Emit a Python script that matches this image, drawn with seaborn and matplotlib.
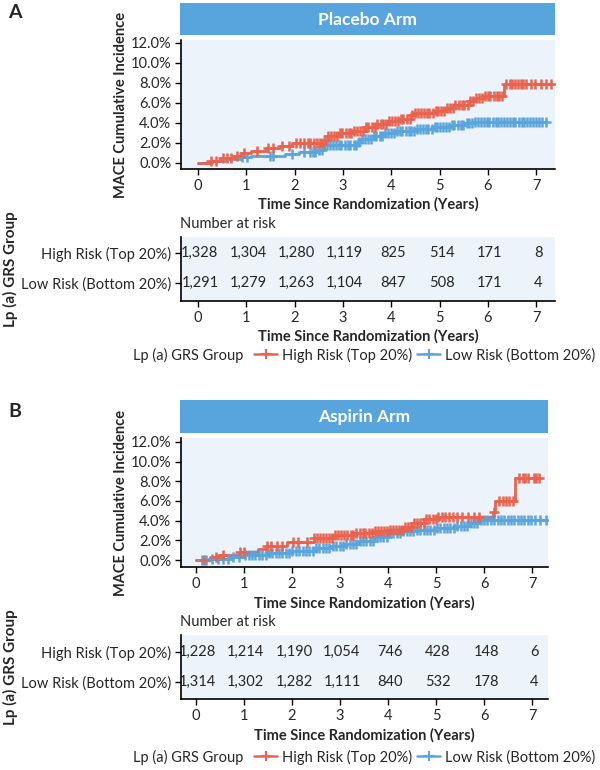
import numpy as np
import pandas as pd
import matplotlib.pyplot as plt
from matplotlib.lines import Line2D
from matplotlib.ticker import FuncFormatter
import seaborn as sns

sns.set_style("ticks")
plt.rcParams["font.family"] = ["Lato", "DejaVu Sans"]

W, H = 600, 770

red = "#E9634E"
blue = "#5AA5DC"
strip_color = "#58A4DC"
panel_bg = "#ECF3FB"

years = [0, 1, 2, 3, 4, 5, 6, 7]
groups = ["High Risk (Top 20%)", "Low Risk (Bottom 20%)"]

# Placebo arm - cumulative incidence steps (years, %)
placebo_high_t = [0, 0.25, 0.45, 0.7, 0.9, 1.1, 1.4, 1.7, 1.95, 2.6, 2.7, 2.9, 3.2, 3.45,
                  3.7, 3.95, 4.2, 4.4, 4.5, 4.9, 5.15, 5.3, 5.6, 5.75, 5.9, 6.33, 7.31]
placebo_high_v = [0, 0.25, 0.5, 0.75, 1.0, 1.2, 1.5, 1.75, 2.0, 2.3, 2.7, 3.0, 3.2, 3.6,
                  3.9, 4.2, 4.4, 4.8, 5.0, 5.2, 5.5, 5.8, 6.2, 6.5, 6.7, 7.9, 7.9]
placebo_high_cens = [0.28, 0.37, 0.52, 0.61, 0.69, 0.8, 0.96, 1.22, 1.46, 1.55, 1.74, 1.88,
                     2.02, 2.11, 2.19, 2.27, 2.32, 2.41, 2.46, 2.52, 2.58, 2.63, 2.7, 2.76,
                     2.81, 2.88, 2.94, 2.99, 3.06, 3.12, 3.17, 3.24, 3.3, 3.35, 3.42, 3.48,
                     3.53, 3.6, 3.66, 3.71, 3.78, 3.84, 3.89, 3.96, 4.02, 4.07, 4.14, 4.2,
                     4.25, 4.32, 4.38, 4.43, 4.5, 4.56, 4.61, 4.68, 4.74, 4.79, 4.86, 4.92,
                     4.97, 5.04, 5.1, 5.15, 5.22, 5.28, 5.33, 5.4, 5.46, 5.51, 5.58, 5.64,
                     5.69, 5.76, 5.82, 5.87, 5.94, 6.0, 6.05, 6.12, 6.18, 6.23, 6.3, 6.38,
                     6.45, 6.5, 6.56, 6.62, 6.68, 6.73, 6.8, 6.9, 6.98, 7.1, 7.21, 7.31]
placebo_low_t = [0, 0.3, 0.6, 0.9, 1.1, 1.8, 2.1, 2.45, 2.6, 3.3, 3.4, 3.6, 3.85, 4.1,
                 4.5, 4.9, 5.25, 5.5, 5.7, 7.2]
placebo_low_v = [0, 0.2, 0.4, 0.6, 0.7, 0.9, 1.1, 1.35, 1.8, 2.1, 2.45, 2.75, 3.0, 3.2,
                 3.4, 3.6, 3.8, 4.0, 4.15, 4.15]
placebo_low_cens = [0.92, 1.02, 1.5, 1.56, 1.95, 2.2, 2.31, 2.38, 2.43, 2.5, 2.56, 2.61,
                    2.68, 2.74, 2.79, 2.86, 2.92, 2.97, 3.04, 3.1, 3.15, 3.22, 3.28, 3.33,
                    3.4, 3.46, 3.51, 3.58, 3.64, 3.69, 3.76, 3.82, 3.87, 3.94, 4.0, 4.05,
                    4.12, 4.18, 4.23, 4.3, 4.36, 4.41, 4.48, 4.54, 4.59, 4.66, 4.72, 4.77,
                    4.84, 4.9, 4.95, 5.02, 5.08, 5.13, 5.2, 5.26, 5.31, 5.38, 5.44, 5.49,
                    5.56, 5.62, 5.67, 5.74, 5.8, 5.85, 5.92, 5.98, 6.03, 6.1, 6.16, 6.21,
                    6.28, 6.34, 6.4, 6.46, 6.52, 6.57, 6.64, 6.7, 6.75, 6.82, 6.88, 6.93,
                    7.0, 7.06, 7.13, 7.2]
placebo_risk_high = [1328, 1304, 1280, 1119, 825, 514, 171, 8]
placebo_risk_low = [1291, 1279, 1263, 1104, 847, 508, 171, 4]

# Aspirin arm
aspirin_high_t = [0, 0.3, 0.5, 0.9, 1.3, 1.45, 1.9, 2.45, 2.9, 3.3, 3.7, 4.0, 4.3, 4.5,
                  4.75, 5.05, 6.18, 6.22, 6.65, 7.15]
aspirin_high_v = [0, 0.3, 0.55, 0.8, 1.1, 1.45, 1.8, 2.2, 2.5, 2.7, 2.9, 3.1, 3.4, 3.8,
                  4.2, 4.35, 4.9, 6.0, 8.3, 8.3]
aspirin_high_cens = [0.16, 0.41, 0.56, 0.92, 1.01, 1.48, 1.56, 1.69, 1.8, 2.02, 2.12,
                     2.31, 2.45, 2.52, 2.58, 2.65, 2.71, 2.77, 2.84, 2.9, 2.96, 3.03,
                     3.09, 3.15, 3.22, 3.28, 3.34, 3.41, 3.47, 3.53, 3.6, 3.66, 3.72,
                     3.79, 3.85, 3.91, 3.98, 4.04, 4.1, 4.17, 4.23, 4.29, 4.36, 4.42,
                     4.48, 4.55, 4.61, 4.67, 4.74, 4.8, 4.86, 4.93, 4.99, 5.05, 5.12,
                     5.18, 5.26, 5.35, 5.44, 5.55, 5.66, 5.78, 5.9, 6.2, 6.31, 6.4, 6.46,
                     6.52, 6.6, 6.72, 6.8, 6.86, 6.92, 7.03, 7.09, 7.15]
aspirin_low_t = [0, 0.3, 0.7, 1.0, 1.5, 2.0, 2.5, 2.8, 3.1, 3.4, 3.7, 4.0, 4.3, 4.6, 5.0,
                 5.4, 5.7, 5.9, 7.29]
aspirin_low_v = [0, 0.15, 0.35, 0.55, 0.7, 0.9, 1.2, 1.4, 1.6, 1.95, 2.3, 2.7, 2.95, 3.1,
                 3.3, 3.5, 3.8, 4.1, 4.1]
aspirin_low_cens = [0.12, 0.22, 0.33, 0.45, 0.56, 0.67, 0.78, 0.9, 1.02, 1.1, 1.17, 1.24,
                    1.31, 1.38, 1.45, 1.52, 1.59, 1.66, 1.73, 1.8, 1.87, 1.94, 2.01, 2.08,
                    2.15, 2.22, 2.29, 2.36, 2.43, 2.5, 2.57, 2.64, 2.71, 2.78, 2.85, 2.92,
                    2.99, 3.06, 3.13, 3.2, 3.27, 3.34, 3.41, 3.48, 3.55, 3.62, 3.69, 3.76,
                    3.83, 3.9, 3.97, 4.04, 4.11, 4.18, 4.25, 4.32, 4.39, 4.46, 4.53, 4.6,
                    4.67, 4.74, 4.81, 4.88, 4.95, 5.02, 5.09, 5.16, 5.23, 5.3, 5.37, 5.44,
                    5.51, 5.58, 5.65, 5.72, 5.79, 5.86, 5.93, 6.0, 6.07, 6.14, 6.21, 6.28,
                    6.35, 6.42, 6.49, 6.56, 6.63, 6.7, 6.77, 6.84, 6.91, 6.98, 7.06, 7.16,
                    7.29]
aspirin_risk_high = [1228, 1214, 1190, 1054, 746, 428, 148, 6]
aspirin_risk_low = [1314, 1302, 1282, 1111, 840, 532, 178, 4]


def box(x0, y0, x1, y1):
    return [x0 / W, 1 - y1 / H, (x1 - x0) / W, (y1 - y0) / H]


def draw_curve(ax, t, v, cens, color):
    df = pd.DataFrame({"t": t, "v": np.array(v) / 100})
    sns.lineplot(data=df, x="t", y="v", ax=ax, color=color, estimator=None,
                 drawstyle="steps-post", linewidth=2.0)
    idx = np.searchsorted(t, cens, side="right") - 1
    cy = np.array(v)[np.clip(idx, 0, len(v) - 1)] / 100
    sns.scatterplot(x=cens, y=cy, ax=ax, color=color, marker="+", s=42,
                    linewidth=1.8, zorder=3)


def style_axes(ax):
    ax.set_facecolor(panel_bg)
    for s in ["top", "right"]:
        ax.spines[s].set_visible(False)
    for s in ["left", "bottom"]:
        ax.spines[s].set_color("black")
        ax.spines[s].set_linewidth(1.2)
    ax.tick_params(direction="out", length=4, width=1, color="black",
                   labelsize=10.5, pad=3)


fig = plt.figure(figsize=(6, 7.7), dpi=100)

panels = [
    dict(letter="A", title="Placebo Arm", ly=12,
         strip=(180, 3, 555, 35), main=(181, 40, 555, 169), table=(181, 237, 555, 301),
         xlim=(-0.35, 7.39), ylim=(-0.006, 0.123), tylim=(1.6, -0.53),
         high=(placebo_high_t, placebo_high_v, placebo_high_cens),
         low=(placebo_low_t, placebo_low_v, placebo_low_cens),
         risk=(placebo_risk_high, placebo_risk_low),
         xlab=204, nar=224, txlab=336, leg=355),
    dict(letter="B", title="Aspirin Arm", ly=412,
         strip=(180, 400, 548, 433), main=(181, 438, 548, 567), table=(181, 635, 548, 699),
         xlim=(-0.31, 7.33), ylim=(-0.0071, 0.124), tylim=(1.57, -0.57),
         high=(aspirin_high_t, aspirin_high_v, aspirin_high_cens),
         low=(aspirin_low_t, aspirin_low_v, aspirin_low_cens),
         risk=(aspirin_risk_high, aspirin_risk_low),
         xlab=603, nar=622, txlab=735, leg=757),
]

for p in panels:
    fig.text(8 / W, 1 - p["ly"] / H, p["letter"], fontsize=14, fontweight="bold",
             ha="left", va="center")

    # header strip
    ax_s = fig.add_axes(box(*p["strip"]))
    ax_s.set_facecolor(strip_color)
    ax_s.set_xticks([])
    ax_s.set_yticks([])
    for s in ax_s.spines.values():
        s.set_visible(False)
    ax_s.text(0.5, 0.47, p["title"], color="white", fontsize=12.5, fontweight="bold",
              ha="center", va="center", transform=ax_s.transAxes)

    # cumulative incidence
    ax = fig.add_axes(box(*p["main"]))
    style_axes(ax)
    draw_curve(ax, *p["low"], blue)
    draw_curve(ax, *p["high"], red)
    ax.set_xlim(*p["xlim"])
    ax.set_ylim(*p["ylim"])
    ax.set_xticks(years)
    ax.set_yticks([0, 0.02, 0.04, 0.06, 0.08, 0.10, 0.12])
    ax.yaxis.set_major_formatter(FuncFormatter(lambda y, _: f"{y * 100:.1f}%"))
    mh = p["main"][3] - p["main"][1]
    ax.set_xlabel("Time Since Randomization (Years)", fontsize=10.5, fontweight="bold",
                  va="center")
    ax.xaxis.set_label_coords(0.5, -(p["xlab"] - p["main"][3]) / mh)
    ax.set_ylabel("MACE Cumulative Incidence", fontsize=10.5, fontweight="bold",
                  va="center")
    ax.yaxis.set_label_coords((121 - 181) / (p["main"][2] - 181), 0.5)

    # number at risk table
    ax_t = fig.add_axes(box(*p["table"]))
    style_axes(ax_t)
    ax_t.set_xlim(*p["xlim"])
    ax_t.set_ylim(*p["tylim"])
    ax_t.set_xticks(years)
    ax_t.set_yticks([0, 1])
    ax_t.set_yticklabels(groups)
    for row, counts in enumerate(p["risk"]):
        for yr, n in zip(years, counts):
            ax_t.text(yr + 0.04, row, f"{n:,}", ha="center", va="center", fontsize=10.5)
    th = p["table"][3] - p["table"][1]
    ax_t.set_xlabel("Time Since Randomization (Years)", fontsize=10.5, fontweight="bold",
                    va="center")
    ax_t.xaxis.set_label_coords(0.5, -(p["txlab"] - p["table"][3]) / th)
    fig.text(180 / W, 1 - p["nar"] / H, "Number at risk", fontsize=10.5,
             ha="left", va="center")
    fig.text(10 / W, 1 - (p["table"][1] + p["table"][3]) / 2 / H, "Lp (a) GRS Group",
             fontsize=11, fontweight="bold", rotation=90, ha="center", va="center")

    # legend
    fig.text(133 / W, 1 - p["leg"] / H, "Lp (a) GRS Group", fontsize=10.5,
             ha="left", va="center")
    handles = [Line2D([], [], color=red, marker="+", markersize=7, lw=1.8, mew=1.5),
               Line2D([], [], color=blue, marker="+", markersize=7, lw=1.8, mew=1.5)]
    fig.legend(handles, groups, loc="center left", bbox_to_anchor=(254 / W, 1 - p["leg"] / H),
               ncol=2, frameon=False, fontsize=10.5, handlelength=1.6, handletextpad=0.35,
               columnspacing=0.3, borderpad=0, borderaxespad=0)

plt.savefig("out.png", dpi=100, facecolor="white")
